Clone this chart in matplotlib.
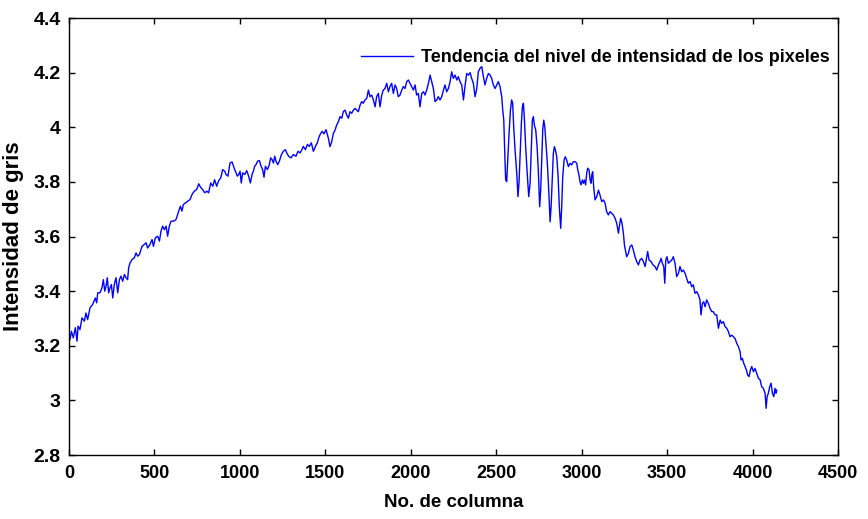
import matplotlib
matplotlib.use('Agg')
import matplotlib.pyplot as plt

plt.rcParams['font.family'] = ['Liberation Sans', 'DejaVu Sans']
plt.rcParams['font.weight'] = 'bold'

# tramo 1: subida (0 - 1500)
col_1 = [6, 14, 25, 37, 47, 53, 64, 76, 90, 99, 109, 123, 138, 154, 162, 168, 181, 193, 201, 209,
         217, 224, 232, 240, 248, 256, 265, 275, 285, 295, 304, 314, 324, 334, 343, 349, 357, 369, 382, 392,
         402, 412, 427, 441, 451, 460, 474, 486, 494, 505, 519, 529, 538, 548, 558, 568, 577, 587, 597, 611,
         626, 642, 652, 661, 669, 681, 694, 708, 720, 733, 747, 759, 770, 782, 794, 806, 817, 829, 841, 852,
         864, 876, 888, 899, 911, 919, 930, 942, 954, 966, 977, 985, 993, 1001, 1008, 1016, 1028, 1040, 1051, 1061,
         1071, 1079, 1086, 1094, 1104, 1114, 1124, 1133, 1141, 1149, 1161, 1172, 1180, 1188, 1196, 1204, 1211, 1221, 1231, 1243,
         1254, 1266, 1274, 1285, 1299, 1313, 1328, 1340, 1352, 1363, 1371, 1383, 1395, 1406, 1418, 1430, 1442, 1453, 1461, 1469,
         1481, 1492, 1504]
int_1 = [3.223, 3.253, 3.229, 3.266, 3.217, 3.272, 3.259, 3.302, 3.290, 3.320, 3.296, 3.339, 3.351, 3.375, 3.357, 3.394, 3.394, 3.412, 3.442, 3.400,
         3.418, 3.449, 3.394, 3.412, 3.424, 3.375, 3.424, 3.449, 3.394, 3.442, 3.455, 3.436, 3.461, 3.449, 3.442, 3.485, 3.503, 3.516, 3.522, 3.540,
         3.528, 3.534, 3.564, 3.571, 3.577, 3.558, 3.571, 3.589, 3.564, 3.595, 3.601, 3.583, 3.619, 3.638, 3.625, 3.638, 3.601, 3.638, 3.656, 3.656,
         3.662, 3.693, 3.711, 3.693, 3.717, 3.723, 3.729, 3.735, 3.754, 3.766, 3.772, 3.793, 3.780, 3.772, 3.760, 3.766, 3.760, 3.796, 3.784, 3.808,
         3.784, 3.805, 3.815, 3.845, 3.839, 3.827, 3.821, 3.869, 3.873, 3.851, 3.833, 3.821, 3.827, 3.839, 3.796, 3.833, 3.827, 3.841, 3.821, 3.796,
         3.827, 3.839, 3.857, 3.863, 3.876, 3.878, 3.857, 3.845, 3.817, 3.857, 3.845, 3.863, 3.888, 3.882, 3.869, 3.894, 3.876, 3.863, 3.876, 3.900,
         3.912, 3.918, 3.906, 3.894, 3.888, 3.900, 3.894, 3.912, 3.906, 3.918, 3.930, 3.918, 3.937, 3.930, 3.943, 3.912, 3.930, 3.943, 3.961, 3.973,
         3.985, 3.976, 3.991]

# tramo 2: maximo y oscilaciones (1500 - 2960)
col_2 = [1518, 1527, 1537, 1547, 1557, 1566, 1576, 1586, 1596, 1605, 1615, 1625, 1635, 1644, 1654, 1664, 1674, 1683, 1693, 1703,
         1713, 1722, 1732, 1742, 1752, 1761, 1771, 1781, 1791, 1800, 1810, 1820, 1830, 1839, 1849, 1859, 1869, 1878, 1888, 1898,
         1908, 1917, 1927, 1937, 1947, 1956, 1966, 1976, 1986, 1995, 2005, 2015, 2025, 2034, 2044, 2054, 2064, 2074, 2083, 2093,
         2103, 2113, 2122, 2132, 2142, 2152, 2161, 2171, 2181, 2191, 2200, 2210, 2220, 2230, 2239, 2249, 2259, 2269, 2278, 2288,
         2298, 2308, 2317, 2327, 2337, 2347, 2356, 2366, 2376, 2386, 2395, 2405, 2415, 2425, 2434, 2444, 2454, 2464, 2473, 2483,
         2493, 2503, 2512, 2522, 2532, 2538, 2544, 2547, 2551, 2555, 2561, 2567, 2575, 2583, 2590, 2596, 2602, 2610, 2620, 2627,
         2633, 2639, 2647, 2653, 2659, 2665, 2672, 2680, 2690, 2698, 2705, 2711, 2717, 2723, 2731, 2739, 2746, 2754, 2760, 2766,
         2772, 2778, 2784, 2791, 2799, 2807, 2815, 2821, 2828, 2834, 2840, 2846, 2854, 2862, 2869, 2877, 2883, 2889, 2897, 2904,
         2912, 2922, 2932, 2941, 2951]
int_2 = [3.959, 3.929, 3.947, 3.978, 3.990, 4.008, 4.020, 4.039, 4.033, 4.057, 4.063, 4.045, 4.033, 4.057, 4.051, 4.063, 4.069, 4.063, 4.057, 4.081,
         4.094, 4.088, 4.100, 4.106, 4.136, 4.112, 4.118, 4.100, 4.075, 4.112, 4.124, 4.075, 4.118, 4.136, 4.142, 4.161, 4.130, 4.149, 4.161, 4.124,
         4.155, 4.142, 4.112, 4.118, 4.136, 4.149, 4.142, 4.167, 4.173, 4.161, 4.149, 4.136, 4.155, 4.118, 4.124, 4.075, 4.124, 4.130, 4.118, 4.136,
         4.161, 4.191, 4.167, 4.142, 4.094, 4.100, 4.112, 4.100, 4.112, 4.136, 4.155, 4.130, 4.142, 4.167, 4.203, 4.179, 4.191, 4.173, 4.185, 4.167,
         4.155, 4.100, 4.149, 4.197, 4.191, 4.200, 4.179, 4.161, 4.112, 4.142, 4.203, 4.216, 4.222, 4.185, 4.155, 4.179, 4.197, 4.191, 4.179, 4.155,
         4.142, 4.155, 4.167, 4.149, 4.112, 4.063, 4.026, 3.959, 3.880, 3.807, 3.801, 3.880, 3.978, 4.063, 4.100, 4.088, 4.002, 3.917, 3.831, 3.746,
         3.795, 3.892, 4.014, 4.075, 4.088, 4.026, 3.929, 3.843, 3.746, 3.795, 3.917, 4.026, 4.039, 4.008, 3.990, 3.929, 3.843, 3.709, 3.770, 3.880,
         3.990, 4.026, 4.002, 3.941, 3.868, 3.770, 3.654, 3.709, 3.819, 3.904, 3.929, 3.917, 3.892, 3.819, 3.709, 3.630, 3.709, 3.819, 3.880, 3.892,
         3.880, 3.856, 3.868, 3.862, 3.874]

# tramo 3: bajada (2960 - 4141)
col_3 = [2961, 2971, 2977, 2984, 2990, 2996, 3004, 3010, 3016, 3023, 3029, 3035, 3043, 3049, 3055, 3059, 3064, 3070, 3078, 3088,
         3098, 3107, 3117, 3127, 3137, 3146, 3156, 3166, 3176, 3185, 3195, 3205, 3215, 3220, 3228, 3236, 3244, 3250, 3257, 3263,
         3273, 3283, 3293, 3302, 3312, 3322, 3332, 3341, 3351, 3361, 3371, 3376, 3386, 3394, 3406, 3417, 3429, 3439, 3449, 3458,
         3464, 3472, 3480, 3486, 3492, 3499, 3507, 3517, 3527, 3536, 3546, 3556, 3566, 3575, 3585, 3595, 3605, 3614, 3624, 3634,
         3644, 3653, 3663, 3673, 3683, 3692, 3698, 3706, 3714, 3722, 3731, 3741, 3751, 3761, 3770, 3780, 3790, 3800, 3810, 3819,
         3829, 3839, 3849, 3858, 3868, 3878, 3888, 3897, 3907, 3917, 3927, 3932, 3940, 3948, 3956, 3964, 3971, 3979, 3987, 3995,
         4005, 4014, 4024, 4034, 4044, 4053, 4063, 4073, 4079, 4085, 4092, 4100, 4108, 4116, 4124, 4131, 4137, 4141]
int_3 = [3.874, 3.868, 3.844, 3.825, 3.801, 3.789, 3.807, 3.795, 3.807, 3.789, 3.831, 3.850, 3.844, 3.807, 3.795, 3.825, 3.837, 3.783, 3.734, 3.746,
         3.770, 3.752, 3.728, 3.734, 3.722, 3.691, 3.679, 3.691, 3.685, 3.679, 3.667, 3.648, 3.612, 3.636, 3.667, 3.648, 3.612, 3.569, 3.545, 3.526,
         3.538, 3.563, 3.569, 3.551, 3.526, 3.508, 3.496, 3.514, 3.520, 3.508, 3.490, 3.508, 3.545, 3.514, 3.508, 3.496, 3.490, 3.477, 3.496, 3.508,
         3.520, 3.502, 3.490, 3.429, 3.514, 3.526, 3.502, 3.508, 3.514, 3.526, 3.502, 3.453, 3.465, 3.490, 3.471, 3.477, 3.465, 3.447, 3.429, 3.435,
         3.416, 3.423, 3.392, 3.398, 3.386, 3.368, 3.313, 3.355, 3.361, 3.343, 3.368, 3.355, 3.337, 3.325, 3.325, 3.313, 3.313, 3.264, 3.294, 3.282,
         3.288, 3.270, 3.264, 3.252, 3.233, 3.239, 3.233, 3.227, 3.209, 3.197, 3.178, 3.148, 3.154, 3.136, 3.124, 3.111, 3.093, 3.087, 3.111, 3.124,
         3.105, 3.117, 3.099, 3.081, 3.075, 3.050, 3.044, 3.026, 2.971, 3.014, 3.026, 3.050, 3.063, 3.026, 3.014, 3.044, 3.026, 3.038]

columna = col_1 + col_2 + col_3
intensidad = int_1 + int_2 + int_3

x_ticks = [0, 500, 1000, 1500, 2000, 2500, 3000, 3500, 4000, 4500]
y_ticks = [2.8, 3, 3.2, 3.4, 3.6, 3.8, 4, 4.2, 4.4]
y_labels = ['2.8', '3', '3.2', '3.4', '3.6', '3.8', '4', '4.2', '4.4']


def main():
    fig = plt.figure(figsize=(8.68, 5.19), dpi=100)
    ax = fig.add_axes([0.0795, 0.1233, 0.886, 0.842])
    ax.plot(columna, intensidad, color='#0000ff', linewidth=1.0,
            label='Tendencia del nivel de intensidad de los pixeles')
    ax.set_xlim(0, 4500)
    ax.set_ylim(2.8, 4.4)
    ax.set_xticks(x_ticks)
    ax.set_yticks(y_ticks)
    ax.set_yticklabels(y_labels)
    ax.tick_params(direction='in', top=True, right=True, length=4, width=1)
    ax.tick_params(axis='x', labelsize=13, pad=7)
    ax.tick_params(axis='y', labelsize=14, pad=6)
    for s in ax.spines.values():
        s.set_linewidth(1)
    ax.set_xlabel('No. de columna', fontsize=13.5, fontweight='bold', labelpad=9)
    ax.set_ylabel('Intensidad de gris', fontsize=16, fontweight='bold', labelpad=7)
    ax.legend(loc='upper right', bbox_to_anchor=(0.998, 0.945), frameon=False,
              fontsize=13, handlelength=2.9, handletextpad=0.4, borderaxespad=0)
    fig.savefig('out.png', dpi=100)


if __name__ == '__main__':
    main()
